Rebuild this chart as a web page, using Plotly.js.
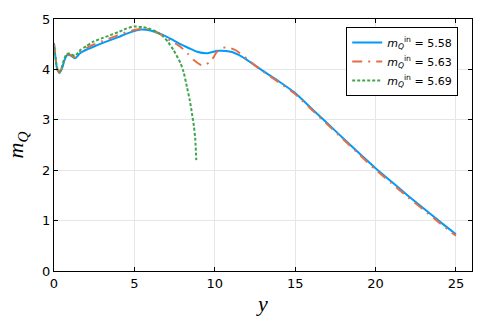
<!DOCTYPE html>
<html>
<head>
<meta charset="utf-8">
<script src="https://cdn.plot.ly/plotly-3.0.1.min.js"></script>
<style>body{margin:0;} #plot{width:491px;height:327px;}</style>
</head>
<body>
<div id="plot"></div>
<script>
// m_Q^in = 5.58
var yA = [0, 0.1, 0.2, 0.35, 0.5, 0.65, 0.8, 1.0, 1.3, 1.62, 2.0, 2.45, 3.0, 3.5, 4.0, 4.53, 5.0, 5.4, 6.0, 6.8, 7.3, 7.86, 8.4, 8.9, 9.5, 10.2, 11.0, 11.6, 12.0, 12.5, 13, 14, 15, 16, 17, 18, 19, 20, 21, 22, 23, 24, 25];
var mA = [4.52, 4.22, 4.0, 3.93, 4.02, 4.18, 4.28, 4.28, 4.22, 4.32, 4.39, 4.45, 4.52, 4.58, 4.64, 4.71, 4.76, 4.79, 4.77, 4.68, 4.6, 4.5, 4.42, 4.35, 4.32, 4.37, 4.35, 4.27, 4.19, 4.08, 3.97, 3.76, 3.53, 3.23, 2.93, 2.63, 2.33, 2.04, 1.77, 1.5, 1.24, 0.98, 0.73];

// m_Q^in = 5.63
var yB = [0, 0.1, 0.2, 0.35, 0.5, 0.65, 0.8, 1.0, 1.3, 1.62, 2.0, 2.45, 3.0, 3.5, 4.0, 4.53, 5.0, 5.5, 6.0, 6.6, 7.2, 7.86, 8.3, 8.68, 9.2, 9.72, 10.14, 10.5, 10.9, 11.3, 12.0, 12.5, 13, 14, 15, 16, 17, 18, 19, 20, 21, 22, 23, 24, 25];
var mB = [4.5, 4.22, 4.01, 3.94, 4.04, 4.2, 4.29, 4.29, 4.24, 4.35, 4.42, 4.49, 4.56, 4.62, 4.68, 4.74, 4.78, 4.81, 4.79, 4.70, 4.58, 4.45, 4.32, 4.19, 4.08, 4.15, 4.35, 4.43, 4.43, 4.38, 4.21, 4.08, 3.96, 3.74, 3.51, 3.21, 2.91, 2.61, 2.31, 2.01, 1.74, 1.47, 1.21, 0.95, 0.70];

// m_Q^in = 5.69
var yC = [0, 0.1, 0.2, 0.35, 0.5, 0.65, 0.8, 1.0, 1.3, 1.62, 2.0, 2.45, 3.0, 3.5, 4.0, 4.5, 5.0, 5.5, 6.0, 6.4, 6.8, 7.1, 7.44, 7.86, 8.06, 8.27, 8.45, 8.58, 8.7, 8.79, 8.85];
var mC = [4.45, 4.22, 4.02, 3.96, 4.06, 4.22, 4.31, 4.31, 4.27, 4.38, 4.46, 4.55, 4.62, 4.68, 4.74, 4.81, 4.85, 4.84, 4.8, 4.74, 4.65, 4.54, 4.38, 4.13, 3.95, 3.65, 3.38, 3.13, 2.88, 2.6, 2.2];

var names = ['5.58', '5.63', '5.69'];
var colors = ['#009AFA', '#E36F47', '#3EA44E'];
var dashes = ['solid', '10px,6px,2px,6px', '3px,2px'];

var lbl = function (v) {
  return '<i>m</i><sub><i>Q</i></sub><sup>in</sup> = ' + v;
};

var xs = [yA, yB, yC];
var ys = [mA, mB, mC];
var data = [];
for (var i = 0; i < 3; i++) {
  data.push({
    x: xs[i], y: ys[i],
    type: 'scatter', mode: 'lines',
    name: lbl(names[i]),
    line: {color: colors[i], width: 2, dash: dashes[i], shape: 'spline', smoothing: 0.6}
  });
}

var axis = {
  showline: true, linecolor: '#000', linewidth: 1, mirror: 'ticks',
  ticks: 'inside', ticklen: 4, tickcolor: '#000',
  showgrid: true, gridcolor: '#e6e6e6', gridwidth: 1,
  zeroline: false,
  tickfont: {family: 'DejaVu Sans', size: 13, color: '#000'}
};

var layout = {
  width: 491, height: 327,
  margin: {l: 54, r: 19, t: 19, b: 56},
  paper_bgcolor: '#fff', plot_bgcolor: '#fff',
  xaxis: Object.assign({}, axis, {
    range: [0, 26], dtick: 5,
    title: {text: '<i>y</i>', font: {family: 'Liberation Serif', size: 22, color: '#000'}, standoff: 6}
  }),
  yaxis: Object.assign({}, axis, {
    range: [0, 5], dtick: 1,
    title: {text: '<i>m</i><sub><i>Q</i></sub>', font: {family: 'Liberation Serif', size: 22, color: '#000'}, standoff: 12}
  }),
  showlegend: true,
  legend: {
    x: 0.967, y: 0.968, xanchor: 'right', yanchor: 'top',
    bgcolor: '#fff', bordercolor: '#000', borderwidth: 1,
    font: {family: 'DejaVu Sans', size: 11, color: '#000'},
    tracegroupgap: 0
  }
};

Plotly.newPlot('plot', data, layout, {displayModeBar: false});
</script>
</body>
</html>
